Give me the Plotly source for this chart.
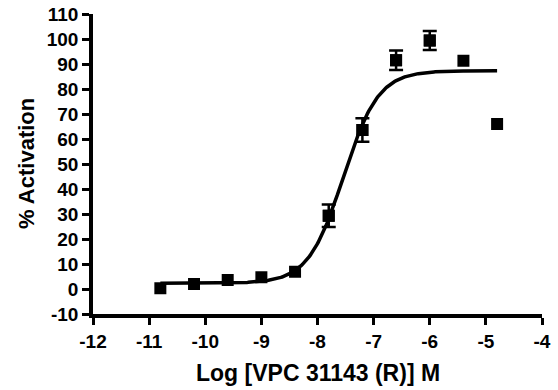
import numpy as np
import plotly.graph_objects as go

# Data
log_conc = [-10.8, -10.2, -9.6, -9.0, -8.4, -7.8, -7.2, -6.6, -6.0, -5.4, -4.8]
activation = [0.3, 2.0, 3.6, 4.7, 6.9, 29.3, 63.6, 91.5, 99.4, 91.3, 66.0]
sem = [None, None, None, None, None, 4.5, 4.7, 3.9, 3.8, None, None]

# Fitted sigmoidal dose-response parameters
fit_bottom = 2.3
fit_top = 87.3
fit_logec50 = -7.54
fit_hill = 1.39

x_ticks = [-12, -11, -10, -9, -8, -7, -6, -5, -4]
y_ticks = [-10, 0, 10, 20, 30, 40, 50, 60, 70, 80, 90, 100, 110]

xc = np.linspace(min(log_conc), max(log_conc), 300)
yc = fit_bottom + (fit_top - fit_bottom) / (1 + 10 ** ((fit_logec50 - xc) * fit_hill))

ex = [x for x, s in zip(log_conc, sem) if s is not None]
ey = [y for y, s in zip(activation, sem) if s is not None]
es = [s for s in sem if s is not None]

FONT = "Liberation Sans, Arial, Helvetica, sans-serif"

fig = go.Figure()
fig.add_trace(go.Scatter(x=xc, y=yc, mode="lines",
                         line=dict(color="black", width=3.5),
                         hoverinfo="skip", showlegend=False))
fig.add_trace(go.Scatter(x=ex, y=ey, mode="markers",
                         marker=dict(symbol="square", size=12, color="black"),
                         error_y=dict(type="data", array=es, visible=True,
                                      color="black", thickness=2.5, width=7),
                         hoverinfo="skip", showlegend=False))
fig.add_trace(go.Scatter(x=log_conc, y=activation, mode="markers",
                         marker=dict(symbol="square", size=12, color="black"),
                         showlegend=False))

axis_common = dict(showline=True, linecolor="black", linewidth=3.5,
                   ticks="outside", ticklen=7, tickwidth=3, tickcolor="black",
                   showgrid=False, zeroline=False, mirror=False, automargin=False,
                   tickfont=dict(family=FONT, size=19, color="black"))

fig.update_xaxes(range=[-12, -4], tickvals=x_ticks,
                 ticktext=[f"<b>{v}</b>" for v in x_ticks], **axis_common)
fig.update_yaxes(range=[-10, 110], tickvals=y_ticks,
                 ticktext=[f"<b>{v}</b>" for v in y_ticks], **axis_common)

fig.add_annotation(text="<b>Log [VPC 31143 (R)] M</b>", xref="paper", yref="paper",
                   x=0.5, y=0, yshift=-59, showarrow=False,
                   xanchor="center", yanchor="middle",
                   font=dict(family=FONT, size=23, color="black"))
fig.add_annotation(text="<b>% Activation</b>", xref="paper", yref="paper",
                   x=0, y=0.5, xshift=-67, textangle=-90, showarrow=False,
                   xanchor="center", yanchor="middle",
                   font=dict(family=FONT, size=22, color="black"))

fig.update_layout(width=558, height=390,
                  margin=dict(l=93, r=16, t=14, b=76, autoexpand=False),
                  paper_bgcolor="white", plot_bgcolor="white")

fig.write_html("out.html", config={"displayModeBar": False},
               post_script="document.body.style.margin='0';")
